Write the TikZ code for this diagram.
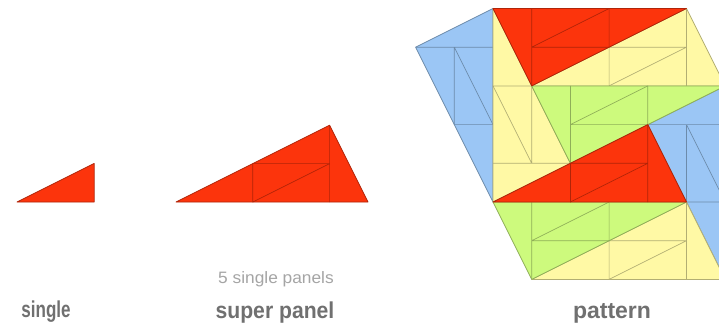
\documentclass[tikz,border=0pt]{standalone}
\usepackage{fontspec}
\setmainfont{Liberation Sans}
\usetikzlibrary{calc}
\definecolor{pwred}{RGB}{252,52,12}
\definecolor{pwyel}{RGB}{255,249,165}
\definecolor{pwgrn}{RGB}{205,250,125}
\definecolor{pwblu}{RGB}{155,198,245}
\definecolor{lblgray}{RGB}{112,112,112}
\definecolor{sublgray}{RGB}{165,165,165}
\tikzset{
  lbl/.style={text=lblgray, anchor=base, inner sep=0pt, font=\fontsize{23}{26}\selectfont\bfseries},
  sublbl/.style={text=sublgray, anchor=base, inner sep=0pt, font=\fontsize{16.5}{19}\selectfont},
}
% super panel of the pinwheel tiling: #1 = end of the long leg, #2 = end of the short leg, #3 = right-angle corner, #4 = colour
\newcommand\pwsuper[4]{%
  \coordinate (spA) at #1;
  \coordinate (spB) at #2;
  \coordinate (spC) at #3;
  \coordinate (spP) at ($(spA)!0.4!(spB)$);
  \coordinate (spQ) at ($(spA)!0.8!(spB)$);
  \coordinate (spR) at ($(spA)!0.5!(spC)$);
  \coordinate (spS) at ($(spQ)!0.5!(spC)$);
  \fill[#4] (spA) -- (spB) -- (spC) -- cycle;
  \draw[draw=#4!70!black, line width=0.7pt, line join=round] (spA) -- (spB) -- (spC) -- cycle;
  \draw[draw=#4!70!black, line width=0.7pt, line join=round] (spP) -- (spR) -- (spS) -- cycle (spQ) -- (spC);
}
\begin{document}
\begin{tikzpicture}[x=1pt, y=-1pt]
\fill[white] (0,0) rectangle (719,325);
\path[use as bounding box] (0,0) rectangle (719,325);
\clip (0,0) rectangle (719,325);

% single panel
\begin{scope}[shift={(17,202)}, x=38.6pt, y=38.6pt]
  \coordinate (s1) at (0,0);
  \coordinate (s2) at (2,0);
  \coordinate (s3) at (2,1);
  \fill[pwred] (s1) -- (s2) -- (s3) -- cycle;
  \draw[draw=pwred!70!black, line width=0.7pt, line join=round] (s1) -- (s2) -- (s3) -- cycle;
\end{scope}

% super panel
\begin{scope}[shift={(176,202)}, x=38.4pt, y=38.4pt]
  \pwsuper{(0,0)}{(5,0)}{(4,2)}{pwred}
\end{scope}

% pattern
\begin{scope}[shift={(493,202)}, x=38.7pt, y=38.7pt]
  \pwsuper{(0,0)}{(0,5)}{(-2,4)}{pwblu}
  \pwsuper{(6,-2)}{(6,3)}{(4,2)}{pwblu}
  \pwsuper{(0,5)}{(0,0)}{(2,1)}{pwyel}
  \pwsuper{(1,3)}{(6,3)}{(5,5)}{pwyel}
  \pwsuper{(1,-2)}{(6,-2)}{(5,0)}{pwyel}
  \pwsuper{(6,3)}{(1,3)}{(2,1)}{pwgrn}
  \pwsuper{(5,0)}{(0,0)}{(1,-2)}{pwgrn}
  \pwsuper{(5,5)}{(0,5)}{(1,3)}{pwred}
  \pwsuper{(0,0)}{(5,0)}{(4,2)}{pwred}
\end{scope}

% labels
\node[lbl] (single) at (46,317) {\scalebox{0.74}[1]{single}};
\node[sublbl] (fivesingle) at (276,283) {\scalebox{1.05}[1]{5 single panels}};
\node[lbl] (superpanel) at (275,318) {\scalebox{0.92}[1]{super panel}};
\node[lbl] (pattern) at (612,318) {\scalebox{1.0}[1]{pattern}};
\end{tikzpicture}
\end{document}
